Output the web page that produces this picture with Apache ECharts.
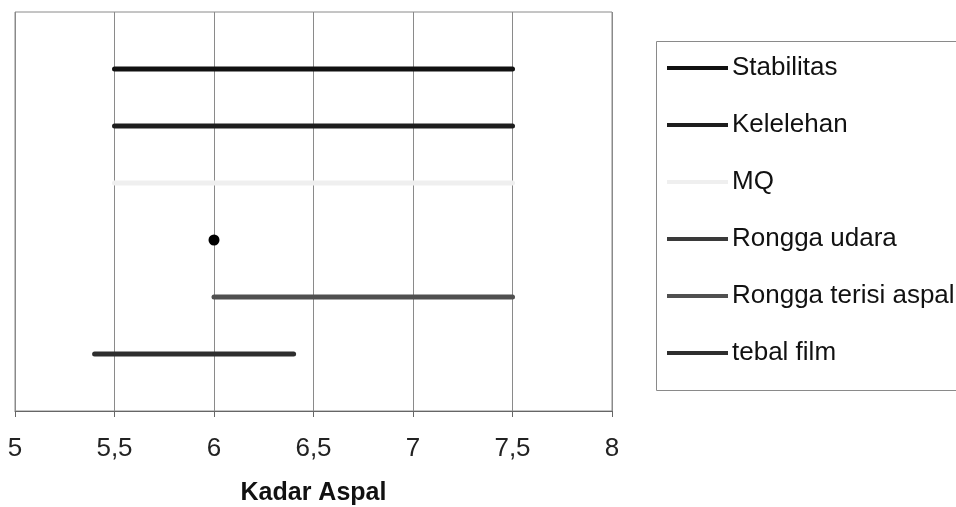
<!DOCTYPE html>
<html>
<head>
<meta charset="utf-8">
<script src="https://cdn.jsdelivr.net/npm/echarts@6/dist/echarts.min.js"></script>
<style>
html,body{margin:0;padding:0;background:#fff;}
#chart{width:956px;height:507px;}
</style>
</head>
<body>
<div id="chart"></div>
<script>
const seriesNames = ['Stabilitas', 'Kelelehan', 'MQ', 'Rongga udara', 'Rongga terisi aspal', 'tebal film'];
const rangeStart = [5.5, 5.5, 5.5, 6, 6, 5.4];
const rangeEnd = [7.5, 7.5, 7.5, 6, 7.5, 6.4];
const rowPos = [6, 5, 4, 3, 2, 1];
const xTicks = [5, 5.5, 6, 6.5, 7, 7.5, 8];

const lineColors = ['#111111', '#1e1e1e', '#efefef', '#3a3a3a', '#505050', '#2e2e2e'];
const font = "'Liberation Sans', Arial, sans-serif";

const chart = echarts.init(document.getElementById('chart'), null, {renderer: 'canvas'});

const series = seriesNames.map((name, i) => {
  const single = rangeStart[i] === rangeEnd[i];
  const data = single ? [[rangeStart[i], rowPos[i]]] : [[rangeStart[i], rowPos[i]], [rangeEnd[i], rowPos[i]]];
  return {
    name: name,
    type: 'line',
    data: data,
    symbol: single ? 'circle' : 'none',
    symbolSize: 11,
    showSymbol: single,
    itemStyle: {color: single ? '#000' : lineColors[i]},
    lineStyle: {color: lineColors[i], width: 5, cap: 'round'},
    emphasis: {disabled: true},
    animation: false,
    z: 3
  };
});

chart.setOption({
  animation: false,
  grid: {left: 15, right: 344, top: 12, bottom: 96, show: true, borderColor: '#8a8a8a', borderWidth: 1,
    containLabel: false, outerBoundsMode: 'none'},
  xAxis: {
    type: 'value', min: 5, max: 8, interval: 0.5,
    name: 'Kadar Aspal', nameLocation: 'middle', nameGap: 70,
    nameTextStyle: {fontFamily: font, fontSize: 25, fontWeight: 'bold', color: '#111'},
    axisLine: {show: true, lineStyle: {color: '#666', width: 1}},
    axisTick: {show: true, length: 6, lineStyle: {color: '#666'}},
    axisLabel: {margin: 25, fontFamily: font, fontSize: 26, color: '#222',
      formatter: v => xTicks.includes(v) ? String(v).replace('.', ',') : ''},
    splitLine: {show: true, lineStyle: {color: '#8a8a8a', width: 1}}
  },
  yAxis: {
    type: 'value', min: 0, max: 7, show: false, splitLine: {show: false}
  },
  legend: {
    orient: 'vertical', left: 667, top: 55, padding: 0,
    itemWidth: 61, itemHeight: 26, itemGap: 31,
    selectedMode: false,
    textStyle: {fontFamily: font, fontSize: 26, color: '#111', lineHeight: 26, padding: [0, 0, 0, -1]},
    data: seriesNames.map((n, i) => ({
      name: n,
      icon: 'path://M0,0H61V4H0Z',
      itemStyle: {color: lineColors[i]}
    }))
  },
  graphic: [{
    type: 'rect', left: 654, top: 39,
    shape: {width: 320, height: 349},
    style: {fill: 'none', stroke: '#8a8a8a', lineWidth: 1},
    silent: true
  }],
  series: series
});
</script>
</body>
</html>
